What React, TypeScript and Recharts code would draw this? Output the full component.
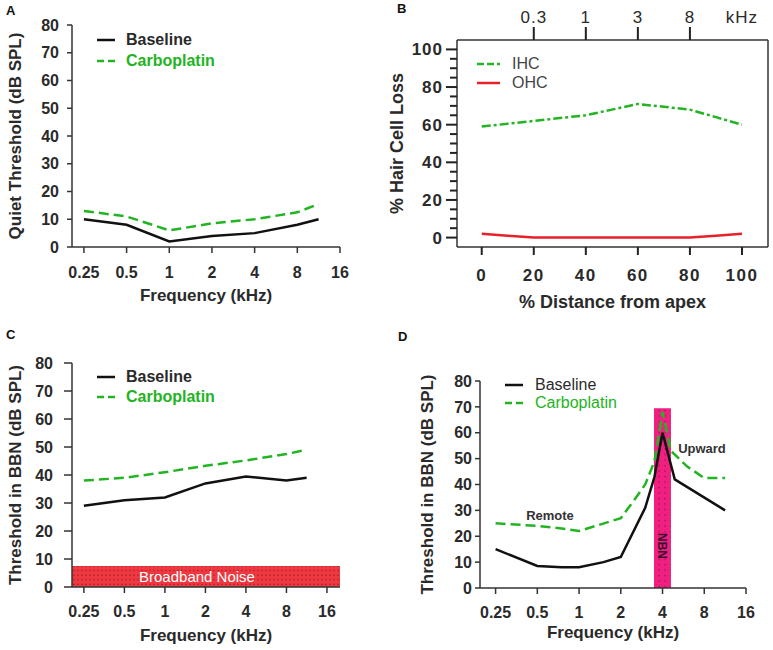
import React from "react"
import { LineChart, Line, XAxis, YAxis, Legend, ReferenceArea, ReferenceDot } from "recharts"

const font = "'Liberation Sans', Arial, Helvetica, sans-serif"
const ink = "#2a2a2a"
const axisInk = "#333"
const green = "#22b422"
const red = "#e8202a"

// shared frequency axis (kHz) and dB axis
const freqTicks = [0.25, 0.5, 1, 2, 4, 8, 16]
const dbTicks = [0, 10, 20, 30, 40, 50, 60, 70, 80]

// A - quiet thresholds
const quietFreqs = [0.25, 0.5, 1, 2, 4, 8, 11.3]
const quietBaseline = [10, 8, 2, 4, 5, 8, 10]
const quietCarbo = [13, 11, 6, 8.5, 10, 12.5, 15.5]

// B - hair cell loss along the cochlea
const apexDistance = [0, 10, 20, 30, 40, 50, 60, 70, 80, 90, 100]
const ihcLoss = [59, 60.5, 62, 63.5, 65, 68, 71, 69.5, 68, 64, 60]
const ohcLoss = [2, 1, 0, 0, 0, 0, 0, 0, 0, 1, 2]
const distTicks = [0, 20, 40, 60, 80, 100]
const lossTicks = [0, 5, 10, 15, 20, 25, 30, 35, 40, 45, 50, 55, 60, 65, 70, 75, 80, 85, 90, 95, 100]
const placeTicks = [20, 40, 60, 80, 100]
const placeLabels = ["0.3", "1", "3", "8", "kHz"]

// C - thresholds in broadband noise
const bbnFreqs = [0.25, 0.5, 1, 2, 4, 8, 11.3]
const bbnBaseline = [29, 31, 32, 37, 39.5, 38, 39]
const bbnCarbo = [38, 39, 41, 43.3, 45.2, 47.5, 49]

// D - thresholds in narrowband noise (4 kHz)
const nbnBaseFreqs = [0.25, 0.5, 0.75, 1, 1.5, 2, 3, 3.5, 4, 4.9, 11.3]
const nbnBaseline = [15, 8.5, 8, 8, 10, 12, 31, 43, 60, 42, 30]
const nbnCarboFreqs = [0.25, 0.5, 0.75, 1, 2, 2.5, 3, 3.5, 4, 4.6, 6, 8, 11.3]
const nbnCarbo = [25, 24, 23, 22, 27, 34, 40, 49, 68, 53, 47, 42.5, 42.5]

const rows = (xs: number[], ys: number[]) => xs.map((x, i) => ({ x, y: ys[i] }))

const axisLine = { stroke: axisInk, strokeWidth: 1.5 }
const tickLine = { stroke: axisInk, strokeWidth: 1.5 }
const boldTick = { fill: ink, fontSize: 16, fontWeight: 700, fontFamily: font }
const titleStyle = { fill: ink, fontSize: 17, fontWeight: 700, fontFamily: font }
const fmtFreq = (v: number) => String(v)

type Item = { label: string; color: string; text: string; dash?: string }

function LegendBlock({ items, rowH, fontSize, fontWeight, lineLen, gap }: any) {
  return (
    <div style={{ fontFamily: font, fontSize, fontWeight }}>
      {items.map((it: Item) => (
        <div key={it.label} style={{ display: "flex", alignItems: "center", height: rowH, whiteSpace: "nowrap" }}>
          <svg width={lineLen} height={4} style={{ display: "block" }}>
            <line x1={0} y1={2} x2={lineLen} y2={2} stroke={it.color} strokeWidth={2.5} strokeDasharray={it.dash} />
          </svg>
          <span style={{ marginLeft: gap, color: it.text }}>{it.label}</span>
        </div>
      ))}
    </div>
  )
}

const drugItems: Item[] = [
  { label: "Baseline", color: "#111", text: ink },
  { label: "Carboplatin", color: green, text: green, dash: "7 4" },
]
const cellItems: Item[] = [
  { label: "IHC", color: green, text: "#444", dash: "7 3" },
  { label: "OHC", color: red, text: "#444" },
]

// left axis of B: a tick every 5%, longer ones with a label every 20%
const LossTick = ({ x, y, payload }: any) => {
  const major = payload.value % 20 === 0
  return (
    <g>
      <path d={`M${x},${y}H${x - (major ? 11 : 7)}`} stroke="#222" strokeWidth={2} fill="none" />
      {major && (
        <text x={x - 14} y={y} dy="0.35em" textAnchor="end" fill={ink} fontSize={17} fontWeight={700} fontFamily={font} letterSpacing={1}>
          {payload.value}
        </text>
      )}
    </g>
  )
}

// bottom axis of B: tick mark below the axis plus bold label
const DistTick = ({ x, y, payload }: any) => (
  <g>
    <path d={`M${x},${y}V${y + 8}`} stroke="#222" strokeWidth={2} fill="none" />
    <text x={x} y={y + 28} dy="0.35em" textAnchor="middle" fill={ink} fontSize={17} fontWeight={700} fontFamily={font} letterSpacing={1.5}>
      {payload.value}
    </text>
  </g>
)

const PlaceTick = ({ x, y, payload }: any) => {
  const label = placeLabels[placeTicks.indexOf(payload.value)]
  return (
    <g>
      {label !== "kHz" && <path d={`M${x},${y}V${y - 13}`} stroke="#222" strokeWidth={2} fill="none" />}
      <text x={x} y={y - 23} dy="0.35em" textAnchor="middle" fill={ink} fontSize={17} fontFamily={font} letterSpacing={1}>
        {label}
      </text>
    </g>
  )
}

const BandLabel = ({ viewBox, text, shift = 0, color, turn = 0, fromBottom, size, weight }: any) => {
  const cx = viewBox.x + viewBox.width / 2 + shift
  const cy = fromBottom != null ? viewBox.y + viewBox.height - fromBottom : viewBox.y + viewBox.height / 2
  return (
    <text x={cx} y={cy} dy="0.35em" textAnchor="middle" fill={color} fontSize={size} fontWeight={weight} fontFamily={font}
      transform={turn ? `rotate(${turn}, ${cx}, ${cy})` : undefined}>
      {text}
    </text>
  )
}

const PanelLetter = ({ left, top, children }: any) => (
  <div style={{ position: "absolute", left, top, fontFamily: font, fontWeight: 700, fontSize: 13, color: "#111", lineHeight: "13px" }}>
    {children}
  </div>
)

function FreqChart({ width, height, margin, yWidth, domain, xTickMargin, yTickSize, yTickMargin, yTitle, yTitleOffset, xTitleOffset, legend, children }: any) {
  return (
    <LineChart width={width} height={height} margin={margin}>
      {children}
      <XAxis type="number" dataKey="x" scale="log" domain={domain} allowDataOverflow ticks={freqTicks} interval={0}
        tickFormatter={fmtFreq} tick={boldTick} tickSize={6} tickMargin={xTickMargin} axisLine={axisLine} tickLine={tickLine} height={60}
        label={{ value: "Frequency (kHz)", position: "insideBottom", offset: xTitleOffset, ...titleStyle }} />
      <YAxis type="number" domain={[0, 80]} ticks={dbTicks} interval={0} width={yWidth} tick={boldTick}
        tickSize={yTickSize} tickMargin={yTickMargin} axisLine={axisLine} tickLine={tickLine}
        label={{ value: yTitle, angle: -90, position: "insideLeft", offset: yTitleOffset, style: { textAnchor: "middle" }, ...titleStyle }} />
      <Legend layout="vertical" align="center" verticalAlign="middle" wrapperStyle={{ top: legend.top, left: legend.left, width: "auto" }}
        content={() => <LegendBlock items={drugItems} rowH={legend.rowH} fontSize={16} fontWeight={legend.weight} lineLen={18} gap={legend.gap} />} />
    </LineChart>
  )
}

export default function App() {
  return (
    <div style={{ position: "absolute", left: 0, top: 0, width: 773, height: 650, background: "#fff", fontFamily: font, overflow: "hidden" }}>
      {/* A */}
      <div style={{ position: "absolute", left: 0, top: 0 }}>
        <FreqChart width={380} height={320} margin={{ top: 25, right: 40, bottom: 13, left: 0 }} yWidth={72} domain={[0.206, 16]}
          xTickMargin={14} yTickSize={5} yTickMargin={8} yTitle="Quiet Threshold (dB SPL)" yTitleOffset={15} xTitleOffset={6}
          legend={{ top: 29, left: 97, rowH: 21, weight: 700, gap: 11 }}>
          <Line data={rows(quietFreqs, quietBaseline)} dataKey="y" name="Baseline" stroke="#111" strokeWidth={2.5} dot={false} isAnimationActive={false} />
          <Line data={rows(quietFreqs, quietCarbo)} dataKey="y" name="Carboplatin" stroke={green} strokeWidth={2.5} strokeDasharray="10 5" dot={false} isAnimationActive={false} />
        </FreqChart>
      </div>

      {/* B: IHC is drawn against the top/left axes, OHC against bottom/right (same domains) so all four box sides render */}
      <div style={{ position: "absolute", left: 380, top: 0 }}>
        <LineChart width={393} height={320} margin={{ top: 0, right: 3, bottom: 9, left: 0 }}>
          <XAxis xAxisId="bottom" type="number" dataKey="x" domain={[-9.5, 110]} allowDataOverflow ticks={distTicks} interval={0} height={64}
            tick={<DistTick />} tickLine={false} tickSize={0} tickMargin={0} axisLine={axisLine}
            label={{ value: "% Distance from apex", position: "insideBottom", offset: 3, ...titleStyle, fontSize: 18 }} />
          <XAxis xAxisId="top" orientation="top" type="number" dataKey="x" domain={[-9.5, 110]} allowDataOverflow ticks={placeTicks} interval={0}
            height={40} tick={<PlaceTick />} tickLine={false} tickSize={0} tickMargin={0} axisLine={axisLine} />
          <YAxis yAxisId="left" type="number" domain={[-5, 105]} allowDataOverflow ticks={lossTicks} interval={0} width={77}
            tick={<LossTick />} tickLine={false} tickSize={0} tickMargin={0} axisLine={axisLine}
            label={{ value: "% Hair Cell Loss", angle: -90, position: "insideLeft", offset: 17, style: { textAnchor: "middle" }, ...titleStyle, fontSize: 18 }} />
          <YAxis yAxisId="right" orientation="right" type="number" width={2} domain={[-5, 105]} allowDataOverflow tick={false} tickLine={false} axisLine={axisLine} />
          <Legend layout="vertical" align="center" verticalAlign="middle" wrapperStyle={{ top: 54, left: 97, width: "auto" }}
            content={() => <LegendBlock items={cellItems} rowH={19} fontSize={16} fontWeight={400} lineLen={23} gap={12} />} />
          <Line xAxisId="top" yAxisId="left" data={rows(apexDistance, ihcLoss)} dataKey="y" name="IHC" stroke={green} strokeWidth={2.5} strokeDasharray="9 3 3 3" dot={false} isAnimationActive={false} />
          <Line xAxisId="bottom" yAxisId="right" data={rows(apexDistance, ohcLoss)} dataKey="y" name="OHC" stroke={red} strokeWidth={2.5} dot={false} isAnimationActive={false} />
        </LineChart>
      </div>

      {/* C */}
      <div style={{ position: "absolute", left: 0, top: 320 }}>
        <FreqChart width={380} height={330} margin={{ top: 43, right: 40, bottom: 3, left: 0 }} yWidth={72} domain={[0.204, 20]}
          xTickMargin={13} yTickSize={8} yTickMargin={11} yTitle="Threshold in BBN (dB SPL)" yTitleOffset={15} xTitleOffset={6}
          legend={{ top: 47, left: 97, rowH: 20, weight: 700, gap: 11 }}>
          <defs>
            <pattern id="dotsRed" width="4" height="4.6" patternUnits="userSpaceOnUse">
              <rect width="4" height="4.6" fill="#ef3840" />
              <rect x="1.4" y="1.6" width="1.1" height="1.1" fill="#4a0c10" opacity="0.75" />
            </pattern>
          </defs>
          <ReferenceArea x1={0.204} x2={20} y1={0} y2={7.5} fill="url(#dotsRed)" fillOpacity={1} stroke="none" ifOverflow="hidden"
            label={<BandLabel text="Broadband Noise" shift={-9} color="#fff" size={15} weight={400} />} />
          <Line data={rows(bbnFreqs, bbnBaseline)} dataKey="y" name="Baseline" stroke="#111" strokeWidth={2.5} dot={false} isAnimationActive={false} />
          <Line data={rows(bbnFreqs, bbnCarbo)} dataKey="y" name="Carboplatin" stroke={green} strokeWidth={2.5} strokeDasharray="10 5" dot={false} isAnimationActive={false} />
        </FreqChart>
      </div>

      {/* D */}
      <div style={{ position: "absolute", left: 380, top: 320 }}>
        <FreqChart width={393} height={330} margin={{ top: 61, right: 27, bottom: 2, left: 0 }} yWidth={100} domain={[0.193, 16]}
          xTickMargin={13} yTickSize={5} yTickMargin={3} yTitle="Threshold in BBN (dB SPL)" yTitleOffset={47} xTitleOffset={10}
          legend={{ top: 56, left: 125, rowH: 18, weight: 400, gap: 12 }}>
          <defs>
            <pattern id="dotsPink" width="6" height="5.5" patternUnits="userSpaceOnUse">
              <rect width="6" height="5.5" fill="#f01f80" />
              <rect x="2.5" y="2" width="1.1" height="1.1" fill="#3a0a20" opacity="0.75" />
            </pattern>
          </defs>
          <ReferenceArea x1={3.47} x2={4.6} y1={0} y2={69.5} fill="url(#dotsPink)" fillOpacity={1} stroke="none"
            label={<BandLabel text="NBN" turn={90} fromBottom={42} color="#3a1030" size={12} weight={700} />} />
          <Line data={rows(nbnBaseFreqs, nbnBaseline)} dataKey="y" name="Baseline" stroke="#111" strokeWidth={2.5} dot={false} isAnimationActive={false} />
          <Line data={rows(nbnCarboFreqs, nbnCarbo)} dataKey="y" name="Carboplatin" stroke={green} strokeWidth={2.5} strokeDasharray="10 5" dot={false} isAnimationActive={false} />
          <ReferenceDot x={0.617} y={28.2} r={0} stroke="none" fill="none"
            label={{ value: "Remote", position: "center", fill: "#333", fontSize: 13, fontWeight: 700, fontFamily: font }} />
          <ReferenceDot x={7.7} y={54} r={0} stroke="none" fill="none"
            label={{ value: "Upward", position: "center", fill: "#333", fontSize: 13, fontWeight: 700, fontFamily: font }} />
        </FreqChart>
      </div>

      <PanelLetter left={6} top={4}>A</PanelLetter>
      <PanelLetter left={397} top={2}>B</PanelLetter>
      <PanelLetter left={6} top={328}>C</PanelLetter>
      <PanelLetter left={398} top={330}>D</PanelLetter>
    </div>
  )
}
